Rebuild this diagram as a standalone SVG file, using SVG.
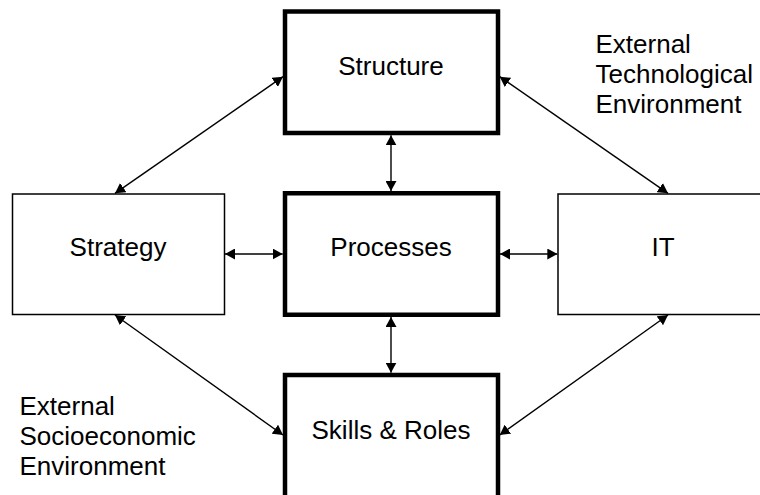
<svg xmlns="http://www.w3.org/2000/svg" width="760" height="495" viewBox="0 0 760 495">
  <style>
    .core { fill: #ffffff; stroke: #000000; stroke-width: 4.5; }
    .side { fill: #ffffff; stroke: #000000; stroke-width: 1.5; }
    .label { font-family: "Liberation Sans", Arial, sans-serif; font-size: 26px; fill: #000000; }
    .mid { text-anchor: middle; }
    .link { stroke: #000000; stroke-width: 1.4; fill: none; marker-start: url(#head); marker-end: url(#head); }
  </style>
  <defs>
    <marker id="head" viewBox="0 0 10 11" refX="10" refY="5.5" markerWidth="10" markerHeight="11" markerUnits="userSpaceOnUse" orient="auto-start-reverse">
      <path d="M0,0 L10,5.5 L0,11 z" fill="#000000"/>
    </marker>
  </defs>
  <rect width="760" height="495" fill="#ffffff"/>

  <!-- Two-way links between the blocks -->
  <g id="connectors">
    <line class="link" x1="391" y1="135.3" x2="391" y2="191"/>
    <line class="link" x1="391" y1="317" x2="391" y2="372.7"/>
    <line class="link" x1="225" y1="254" x2="282.7" y2="254"/>
    <line class="link" x1="500" y1="254" x2="557.3" y2="254"/>
    <line class="link" x1="283" y1="76.7" x2="115" y2="193.3"/>
    <line class="link" x1="499.7" y1="76.7" x2="668" y2="193.3"/>
    <line class="link" x1="115" y1="315" x2="283" y2="435"/>
    <line class="link" x1="668" y1="315" x2="499.7" y2="435"/>
  </g>

  <g id="structure">
    <rect class="core" x="285" y="11.5" width="213" height="121.5"/>
    <text class="label mid" x="391" y="75">Structure</text>
  </g>

  <g id="processes">
    <rect class="core" x="285" y="193.25" width="213" height="121.5"/>
    <text class="label mid" x="391" y="256">Processes</text>
  </g>

  <g id="skills-roles">
    <rect class="core" x="285" y="375" width="213" height="140"/>
    <text class="label mid" x="391" y="438.5">Skills &amp; Roles</text>
  </g>

  <g id="strategy">
    <rect class="side" x="12.5" y="194" width="212" height="120.5"/>
    <text class="label mid" x="118" y="256">Strategy</text>
  </g>

  <g id="it">
    <rect class="side" x="558" y="194" width="212" height="120.5"/>
    <text class="label mid" x="663" y="256">IT</text>
  </g>

  <g id="external-technological">
    <text class="label" x="595.5" y="52.5">External</text>
    <text class="label" x="595.5" y="82.5">Technological</text>
    <text class="label" x="595.5" y="112.5">Environment</text>
  </g>

  <g id="external-socioeconomic">
    <text class="label" x="19.5" y="415">External</text>
    <text class="label" x="19.5" y="445">Socioeconomic</text>
    <text class="label" x="19.5" y="475">Environment</text>
  </g>
</svg>
